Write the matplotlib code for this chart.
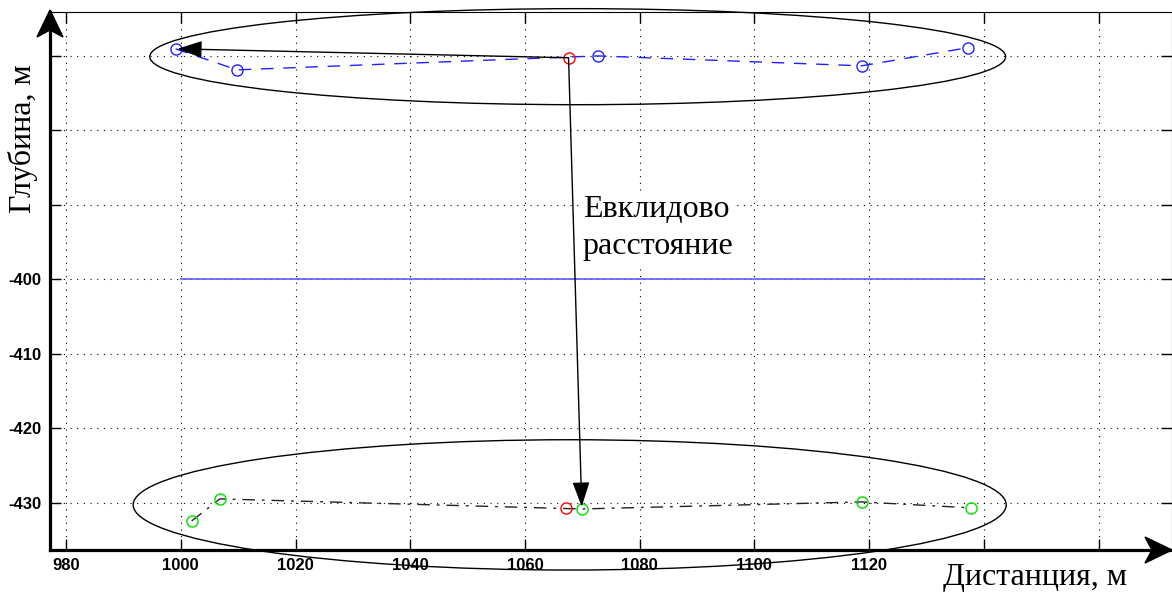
import matplotlib
matplotlib.use("Agg")
import matplotlib.pyplot as plt
from matplotlib.patches import Ellipse

# ---- data ----
blue_x = [999.1, 1009.8, 1072.7, 1118.7, 1137.2]
blue_y = [-369.05, -371.87, -370.0, -371.33, -368.9]
red_top = (1067.6, -370.25)
green_x = [1001.9, 1006.8, 1069.9, 1118.7, 1137.7]
green_y = [-432.46, -429.5, -430.85, -429.9, -430.7]
red_bottom = (1067.1, -430.7)
level_x = [1000, 1140]
level_y = [-400, -400]
ellipse_top = (1069.2, -370.1, 149.2, 12.9)
ellipse_bottom = (1067.8, -430.3, 152.2, 17.5)
xticks = [980, 1000, 1020, 1040, 1060, 1080, 1100, 1120, 1140, 1160]
xticklabels = ["980", "1000", "1020", "1040", "1060", "1080", "1100", "1120", "", ""]
yticks = [-430, -420, -410, -400, -390, -380, -370]
yticklabels = ["-430", "-420", "-410", "-400", "", "", ""]
xlabel = "Дистанция, м"
ylabel = "Глубина, м"
note = "Евклидово\nрасстояние"

W, H = 1172, 592
fig = plt.figure(figsize=(W / 100, H / 100), dpi=100)
L, R, T, B = 50, 1172, 12, 550
ax = fig.add_axes([L / W, 1 - B / H, (R - L) / W, (B - T) / H])
ax.set_xlim(977.2, 1172.8)
ax.set_ylim(-436.36, -364.1)

ax.set_xticks(xticks)
ax.set_xticklabels(xticklabels)
ax.set_yticks(yticks)
ax.set_yticklabels(yticklabels)
ax.tick_params(direction="in", top=True, right=True, length=8, width=1, pad=6)
for lab in ax.get_xticklabels() + ax.get_yticklabels():
    lab.set_fontfamily("Liberation Sans")
    lab.set_fontweight("bold")
    lab.set_fontsize(12)

ax.grid(True, color="black", linestyle=(0, (1, 5)), linewidth=0.8)
ax.set_axisbelow(True)
for s in ["left", "bottom"]:
    ax.spines[s].set_linewidth(2.3)
for s in ["top", "right"]:
    ax.spines[s].set_linewidth(0.8)

# level line
ax.plot(level_x, level_y, color="#5a5aff", lw=1.2)

# upper group
ax.plot(blue_x, blue_y, color="#2020ff", lw=1.0, linestyle=(0, (9, 7)),
        marker="o", markersize=8, markerfacecolor="none", markeredgewidth=1.0)
ax.plot([red_top[0]], [red_top[1]], "o", color="red", markersize=8,
        markerfacecolor="none", markeredgewidth=1.0)

# lower group
ax.plot(green_x, green_y, color="#222222", lw=1.0, linestyle=(0, (9, 5, 2, 5)))
ax.plot(green_x, green_y, "o", color="#00e000", markersize=8,
        markerfacecolor="none", markeredgewidth=1.0, linestyle="none")
ax.plot([red_bottom[0]], [red_bottom[1]], "o", color="red", markersize=8,
        markerfacecolor="none", markeredgewidth=1.0)

# ellipses
for cx, cy, w, h in [ellipse_top, ellipse_bottom]:
    ax.add_patch(Ellipse((cx, cy), w, h, facecolor="none", edgecolor="black",
                         lw=1.0, clip_on=False, zorder=3))

# arrows
aprops = dict(arrowstyle="-|>,head_length=1.1,head_width=0.38", color="black",
              lw=1.0, mutation_scale=14, shrinkA=0, shrinkB=0)
ax.annotate("", xy=(blue_x[0] + 0.3, blue_y[0]), xytext=red_top, arrowprops=aprops)
ax.annotate("", xy=(green_x[2], green_y[2] + 0.3), xytext=red_top, arrowprops=aprops)

ax.text(1070.1, -393.1, note, fontfamily="Liberation Serif", fontsize=23,
        ha="left", va="center", linespacing=1.35,
        bbox=dict(facecolor="white", edgecolor="none", pad=2), zorder=4)

# axis arrowheads (stealth shape), in figure pixels
def px(x, y):
    return (x / W, 1 - y / H)

head_y = plt.Polygon([px(50, 10), px(37, 37), px(50, 30), px(63, 37)],
                     closed=True, color="black", transform=fig.transFigure)
head_x = plt.Polygon([px(1172, 550), px(1145, 537), px(1152, 550), px(1145, 563)],
                     closed=True, color="black", transform=fig.transFigure)
fig.patches.extend([head_y, head_x])

fig.text(23 / W, 1 - 139 / H, ylabel, rotation=90, fontfamily="Liberation Serif",
         fontsize=23, ha="center", va="center")
fig.text(1035 / W, 1 - 585 / H, xlabel, fontfamily="Liberation Serif",
         fontsize=23, ha="center", va="baseline")

fig.savefig("out.png", dpi=100)
